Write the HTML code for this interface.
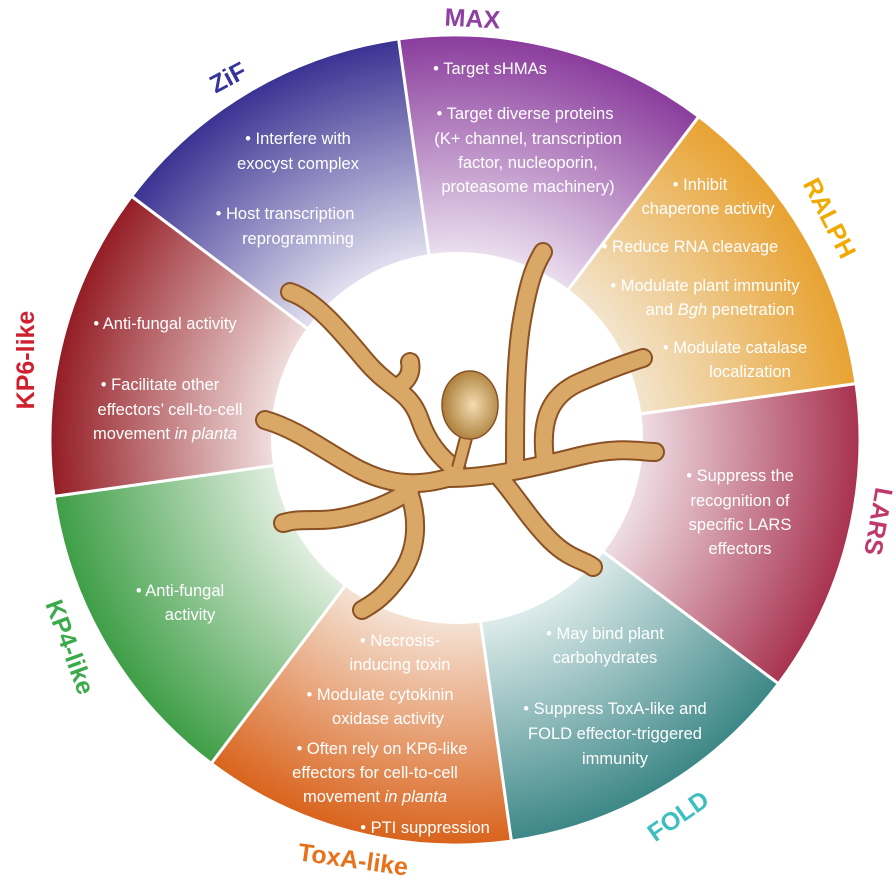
<!DOCTYPE html>
<html><head><meta charset="utf-8"><style>
html,body{margin:0;padding:0;background:#fff;}
svg{display:block;}
.t{font-family:"Liberation Sans",sans-serif;font-size:16.5px;fill:#fff;text-anchor:middle;}
.l{font-family:"Liberation Sans",sans-serif;font-size:25px;font-weight:bold;text-anchor:middle;}
</style></head><body>
<svg width="896" height="893" viewBox="0 0 896 893" xmlns="http://www.w3.org/2000/svg">
<defs>
<radialGradient id="g0" gradientUnits="userSpaceOnUse" cx="455" cy="440" r="405"><stop offset="0.45" stop-color="#e4e2f0"/><stop offset="1" stop-color="#3a3292"/></radialGradient>
<radialGradient id="g1" gradientUnits="userSpaceOnUse" cx="455" cy="440" r="405"><stop offset="0.45" stop-color="#ece2f0"/><stop offset="1" stop-color="#8a3c9c"/></radialGradient>
<radialGradient id="g2" gradientUnits="userSpaceOnUse" cx="455" cy="440" r="405"><stop offset="0.45" stop-color="#f3e6d0"/><stop offset="1" stop-color="#e8a231"/></radialGradient>
<radialGradient id="g3" gradientUnits="userSpaceOnUse" cx="455" cy="440" r="405"><stop offset="0.45" stop-color="#f0e0e6"/><stop offset="1" stop-color="#a8324f"/></radialGradient>
<radialGradient id="g4" gradientUnits="userSpaceOnUse" cx="455" cy="440" r="405"><stop offset="0.45" stop-color="#dfecec"/><stop offset="1" stop-color="#3d8787"/></radialGradient>
<radialGradient id="g5" gradientUnits="userSpaceOnUse" cx="455" cy="440" r="405"><stop offset="0.45" stop-color="#f5e2d4"/><stop offset="1" stop-color="#d9631c"/></radialGradient>
<radialGradient id="g6" gradientUnits="userSpaceOnUse" cx="455" cy="440" r="405"><stop offset="0.45" stop-color="#e0eedf"/><stop offset="1" stop-color="#3e9e46"/></radialGradient>
<radialGradient id="g7" gradientUnits="userSpaceOnUse" cx="455" cy="440" r="405"><stop offset="0.45" stop-color="#f0dedd"/><stop offset="1" stop-color="#941c24"/></radialGradient>
<radialGradient id="nuc" cx="0.55" cy="0.5" r="0.6"><stop offset="0" stop-color="#f3dcb0"/><stop offset="1" stop-color="#a4742e"/></radialGradient>
</defs>
<g id="segs" stroke="#fff" stroke-width="3"></g>
<circle cx="457" cy="438" r="186" fill="#fff"/>
<g fill="none" stroke-linecap="round" stroke-linejoin="round">
<g id="br" stroke="#8a5224" stroke-width="20"></g>
<g id="br2" stroke="#d9a766" stroke-width="16"></g>
</g>
<line x1="466" y1="438" x2="458" y2="468" stroke="#8a5224" stroke-width="14"/>
<line x1="466" y1="438" x2="458" y2="468" stroke="#d9a766" stroke-width="10"/>
<ellipse cx="470" cy="405" rx="28" ry="34" fill="url(#nuc)" stroke="#8a5224" stroke-width="1.5"/>

<g class="t">
<text x="298" y="144">• Interfere with</text><text x="298" y="169">exocyst complex</text>
<text x="285" y="219">• Host transcription</text><text x="298" y="244">reprogramming</text>
<text x="490" y="74">• Target sHMAs</text>
<text x="525" y="119">• Target diverse proteins</text><text x="528" y="144">(K+ channel, transcription</text><text x="528" y="168">factor, nucleoporin,</text><text x="528" y="192">proteasome machinery)</text>
<text x="700" y="190">• Inhibit</text><text x="708" y="214">chaperone activity</text>
<text x="690" y="252">• Reduce RNA cleavage</text>
<text x="705" y="291">• Modulate plant immunity</text><text x="720" y="315">and <tspan font-style="italic">Bgh</tspan> penetration</text>
<text x="735" y="353">• Modulate catalase</text><text x="750" y="377">localization</text>
<text x="740" y="481">• Suppress the</text><text x="740" y="506">recognition of</text><text x="740" y="530">specific LARS</text><text x="740" y="554">effectors</text>
<text x="605" y="639">• May bind plant</text><text x="605" y="663">carbohydrates</text>
<text x="615" y="714">• Suppress ToxA-like and</text><text x="615" y="739">FOLD effector-triggered</text><text x="615" y="764">immunity</text>
<text x="400" y="646">• Necrosis-</text><text x="400" y="670">inducing toxin</text>
<text x="380" y="700">• Modulate cytokinin</text><text x="388" y="724">oxidase activity</text>
<text x="382" y="754">• Often rely on KP6-like</text><text x="375" y="778">effectors for cell-to-cell</text><text x="375" y="802">movement <tspan font-style="italic">in planta</tspan></text>
<text x="425" y="833">• PTI suppression</text>
<text x="180" y="596">• Anti-fungal</text><text x="190" y="620">activity</text>
<text x="165" y="329">• Anti-fungal activity</text>
<text x="160" y="390">• Facilitate other</text><text x="170" y="415">effectors’ cell-to-cell</text><text x="165" y="439">movement <tspan font-style="italic">in planta</tspan></text>
</g>
<g class="l">
<text x="472" y="27" fill="#8e3fa3" transform="rotate(3 472 27)">MAX</text>
<text x="232" y="85" fill="#34349a" transform="rotate(-28 232 85)">ZiF</text>
<text x="822" y="222" fill="#f2a900" transform="rotate(63 822 222)">RALPH</text>
<text x="870" y="520" fill="#c0396b" transform="rotate(100 870 520)">LARS</text>
<text x="683" y="823" fill="#3cbfbf" transform="rotate(-35 683 823)">FOLD</text>
<text x="352" y="868" fill="#e8721c" transform="rotate(8 352 868)">ToxA-like</text>
<text x="62" y="650" fill="#3aaa4a" transform="rotate(70 62 650)">KP4-like</text>
<text x="34" y="360" fill="#d0202e" transform="rotate(-90 34 360)">KP6-like</text>
</g>
<script>
(function(){
var cx=455,cy=440,R=405,ns="http://www.w3.org/2000/svg";
var g=document.getElementById("segs");
for(var k=0;k<8;k++){
 var a1=(-53+45*k)*Math.PI/180,a2=(-53+45*(k+1))*Math.PI/180;
 var x1=cx+R*Math.sin(a1),y1=cy-R*Math.cos(a1),x2=cx+R*Math.sin(a2),y2=cy-R*Math.cos(a2);
 var p=document.createElementNS(ns,"path");
 p.setAttribute("d","M"+cx+","+cy+" L"+x1+","+y1+" A"+R+","+R+" 0 0 1 "+x2+","+y2+" Z");
 p.setAttribute("fill","url(#g"+k+")");
 g.appendChild(p);
}
var br=["M290,292 C315,300 340,330 365,360 S410,390 420,420 S450,465 457,470",
"M410,362 C412,372 408,380 400,385",
"M265,420 C300,430 330,455 360,470 S420,488 457,475",
"M410,490 C390,505 350,520 318,520 S290,522 283,523",
"M410,495 C418,520 418,550 400,575 S370,605 362,610",
"M500,478 C515,495 530,520 550,540 S585,560 593,567",
"M450,478 C490,478 540,466 580,456 S640,452 655,452",
"M515,465 C515,420 515,360 522,320 S535,265 543,252",
"M545,460 C540,420 550,395 580,382 S630,362 643,358"];
["br","br2"].forEach(function(id){var gg=document.getElementById(id);
br.forEach(function(d){var p=document.createElementNS(ns,"path");p.setAttribute("d",d);gg.appendChild(p);});});
})();
</script>
</svg>
</body></html>
